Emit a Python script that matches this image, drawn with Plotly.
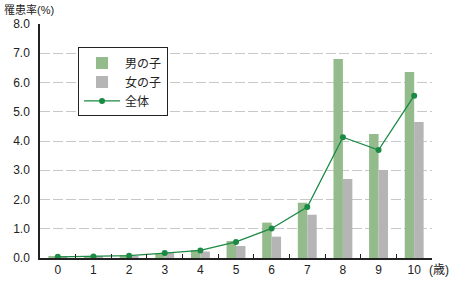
import plotly.graph_objects as go

ages = ["0", "1", "2", "3", "4", "5", "6", "7", "8", "9", "10"]
boys = [0.05, 0.06, 0.10, 0.16, 0.27, 0.58, 1.21, 1.89, 6.80, 4.24, 6.36]
girls = [0.04, 0.05, 0.07, 0.18, 0.22, 0.41, 0.73, 1.48, 2.70, 3.01, 4.65]
total = [0.04, 0.05, 0.08, 0.17, 0.26, 0.55, 1.01, 1.74, 4.13, 3.69, 5.55]
yticks = [0, 1, 2, 3, 4, 5, 6, 7, 8]

font = "Liberation Sans, Noto Sans CJK JP, sans-serif"

fig = go.Figure()
fig.add_trace(go.Bar(x=ages, y=boys, name="男の子", marker_color="#93bb8b", marker_line_width=0))
fig.add_trace(go.Bar(x=ages, y=girls, name="女の子", marker_color="#b5b5b5", marker_line_width=0))
fig.add_trace(go.Scatter(x=ages, y=total, name="全体", mode="lines+markers",
                         line=dict(color="#1a8a45", width=1.3),
                         marker=dict(color="#1a8a45", size=6)))

fig.update_layout(
    width=453, height=283,
    margin=dict(l=40, r=21, t=24, b=25, autoexpand=False),
    plot_bgcolor="white", paper_bgcolor="white",
    font=dict(family=font, size=12, color="#222"),
    barmode="group", bargap=0.47, bargroupgap=0,
    showlegend=True,
    legend=dict(x=0.097, y=0.90, xanchor="left", yanchor="top",
                bordercolor="#222", borderwidth=1, bgcolor="white",
                font=dict(size=12), tracegroupgap=0, itemwidth=36,
                traceorder="normal"),
    xaxis=dict(type="category", range=[-0.5, 10.5], showline=True, linecolor="#222", linewidth=1.5,
               ticks="inside", tickson="boundaries", ticklen=4, tickcolor="#222",
               showgrid=False, tickfont=dict(size=12), automargin=False),
    yaxis=dict(range=[0, 8], tickvals=yticks, tickformat=".1f",
               showline=True, linecolor="#222", linewidth=1.5,
               showgrid=True, gridcolor="#c8c8c8", griddash="10px,3px", gridwidth=1,
               zeroline=False, ticks="", ticklabelstandoff=6,
               tickfont=dict(size=12), automargin=False),
    annotations=[
        dict(text="罹患率(%)", x=0, y=1, xref="paper", yref="paper", xshift=-38, yshift=14,
             xanchor="left", yanchor="middle", showarrow=False, font=dict(size=11)),
        dict(text="(歳)", x=1, y=0, xref="paper", yref="paper", xshift=-5, yshift=-12,
             xanchor="left", yanchor="middle", showarrow=False, font=dict(size=12)),
    ],
)

fig.write_html("out.html")
